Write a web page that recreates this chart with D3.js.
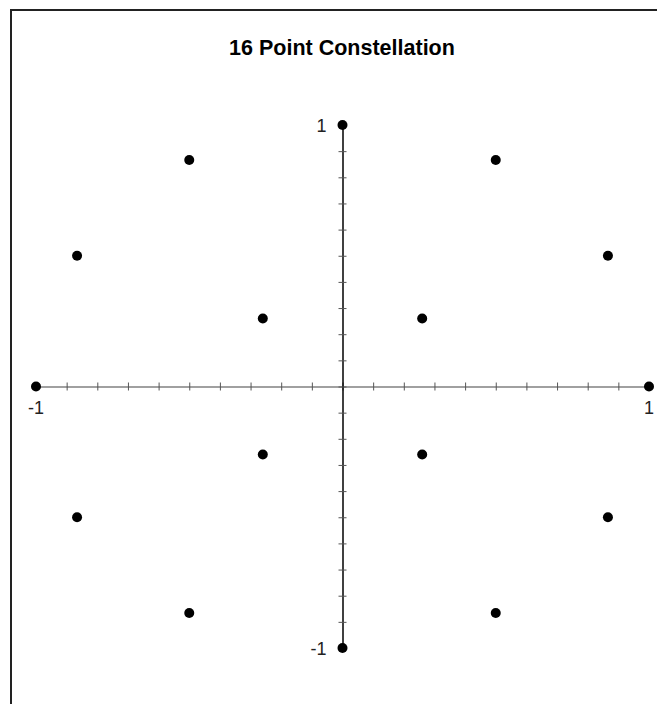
<!DOCTYPE html>
<html><head><meta charset="utf-8">
<script src="https://cdn.jsdelivr.net/npm/d3@7"></script>
<style>html,body{margin:0;padding:0;background:#fff;}svg{display:block;}</style>
</head><body>
<svg id="c" width="657" height="704"></svg>
<script>
const title = "16 Point Constellation";
const pointsI = [0, 0.5, 0.866, 1, 0.866, 0.5, 0, -0.5, -0.866, -1, -0.866, -0.5, 0.26, -0.26, -0.26, 0.26];
const pointsQ = [1, 0.866, 0.5, 0, -0.5, -0.866, -1, -0.866, -0.5, 0, 0.5, 0.866, 0.26, 0.26, -0.26, -0.26];
const tickValues = [-1,-0.9,-0.8,-0.7,-0.6,-0.5,-0.4,-0.3,-0.2,-0.1,0,0.1,0.2,0.3,0.4,0.5,0.6,0.7,0.8,0.9,1];
const labelValues = [-1, 1];

const svg = d3.select("#c");
const font = "'Liberation Sans', Arial, Helvetica, sans-serif";

svg.append("rect").attr("x",11).attr("y",10).attr("width",660).attr("height",720)
  .attr("fill","none").attr("stroke","#222").attr("stroke-width",2);

svg.append("text").attr("x",342).attr("y",55).attr("text-anchor","middle")
  .attr("font-family",font).attr("font-weight","bold").attr("font-size",21.5).attr("fill","#000").text(title);

const x = d3.scaleLinear().domain([-1,1]).range([36,649]);
const y = d3.scaleLinear().domain([-1,1]).range([648,125]);

// X axis
const xAxis = svg.append("g").attr("transform",`translate(0,${y(0)})`)
  .call(d3.axisBottom(x).tickValues(tickValues).tickSize(0).tickFormat(""));
xAxis.select(".domain").attr("stroke","#808080").attr("stroke-width",1.5);
xAxis.selectAll(".tick line").attr("y1",-4).attr("y2",4).attr("stroke","#555").attr("stroke-width",1);

// Y axis
const yAxis = svg.append("g").attr("transform",`translate(${x(0)},0)`)
  .call(d3.axisLeft(y).tickValues(tickValues).tickSize(0).tickFormat(""));
yAxis.select(".domain").attr("stroke","#000").attr("stroke-width",1.5);
yAxis.selectAll(".tick line").attr("x1",-4).attr("x2",4).attr("stroke","#555").attr("stroke-width",1);

// Labels
svg.selectAll(".xl").data(labelValues).enter().append("text")
  .attr("x",d=>x(d)).attr("y",y(0)+27).attr("text-anchor","middle")
  .attr("font-family",font).attr("font-size",18).attr("fill","#222").text(d=>d);
svg.selectAll(".yl").data(labelValues).enter().append("text")
  .attr("x",x(0)-16).attr("y",d=>y(d)+6.5).attr("text-anchor","end")
  .attr("font-family",font).attr("font-size",18).attr("fill","#222").text(d=>d);

// Points
svg.selectAll(".pt").data(pointsI.map((v,i)=>[v,pointsQ[i]])).enter().append("circle")
  .attr("cx",d=>x(d[0])).attr("cy",d=>y(d[1])).attr("r",5).attr("fill","#000");
</script>
</body></html>
